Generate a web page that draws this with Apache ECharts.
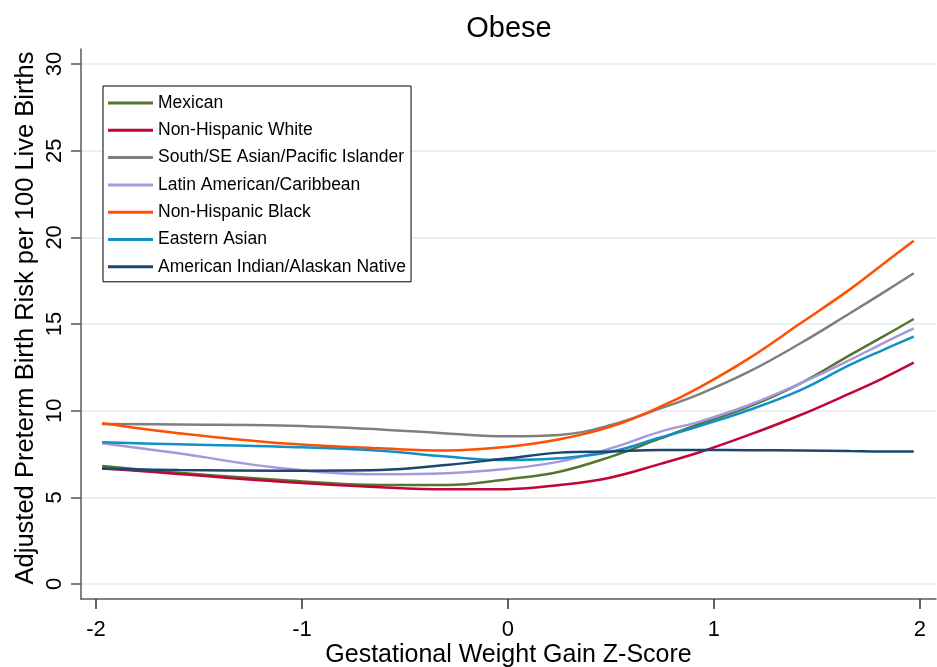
<!DOCTYPE html>
<html>
<head>
<meta charset="utf-8">
<script src="https://cdn.jsdelivr.net/npm/echarts@6/dist/echarts.min.js"></script>
<style>
  html, body { margin: 0; padding: 0; background: #fff; }
  #chart { width: 937px; height: 667px; }
</style>
</head>
<body>
<div id="chart"></div>
<script>
// Gestational weight gain z-score at which each fitted curve is evaluated
const zScores = [-1.97, -1.6, -1.1, -0.62, -0.3, 0, 0.25, 0.5, 0.74, 0.93, 1.17, 1.42, 1.66, 1.82, 1.97];

// Adjusted preterm birth risk per 100 live births, by group
const mexican        = [6.81, 6.42, 6.00, 5.71, 5.71, 6.05, 6.48, 7.35, 8.40, 9.23, 10.23, 11.58, 13.21, 14.27, 15.29];
const nhWhite        = [6.68, 6.35, 5.90, 5.58, 5.46, 5.47, 5.71, 6.15, 6.93, 7.60, 8.60, 9.75, 11.00, 11.87, 12.77];
const southAsianPI   = [9.23, 9.20, 9.14, 8.92, 8.69, 8.52, 8.60, 9.17, 10.13, 10.96, 12.25, 13.89, 15.62, 16.80, 17.93];
const latinCaribbean = [8.12, 7.54, 6.68, 6.33, 6.39, 6.65, 7.06, 7.83, 8.79, 9.37, 10.33, 11.58, 12.93, 13.89, 14.75];
const nhBlack        = [9.27, 8.70, 8.12, 7.83, 7.70, 7.92, 8.35, 9.08, 10.23, 11.35, 13.02, 15.04, 17.00, 18.45, 19.81];
const easternAsian   = [8.18, 8.06, 7.92, 7.69, 7.35, 7.15, 7.25, 7.63, 8.45, 9.12, 10.04, 11.19, 12.64, 13.50, 14.27];
const amIndianAK     = [6.65, 6.58, 6.54, 6.58, 6.87, 7.25, 7.58, 7.65, 7.73, 7.73, 7.72, 7.70, 7.67, 7.65, 7.65];

const groupNames = [
  'Mexican',
  'Non-Hispanic White',
  'South/SE Asian/Pacific Islander',
  'Latin American/Caribbean',
  'Non-Hispanic Black',
  'Eastern Asian',
  'American Indian/Alaskan Native'
];
const groupValues = [mexican, nhWhite, southAsianPI, latinCaribbean, nhBlack, easternAsian, amIndianAK];
const groupColors = ['#55752f', '#c10534', '#7f7f7f', '#a599db', '#ff4f00', '#0f90c6', '#1a476f'];

// Axis tick labels
const xTicks = [-2, -1, 0, 1, 2];
const yTicks = [0, 5, 10, 15, 20, 25, 30];

const fontFamily = '"Liberation Sans", Arial, sans-serif';

const series = groupNames.map((name, i) => ({
  name: name,
  type: 'line',
  smooth: 0.4,
  showSymbol: false,
  symbol: 'none',
  lineStyle: { width: 2.5, color: groupColors[i] },
  itemStyle: { color: groupColors[i] },
  emphasis: { disabled: true },
  data: zScores.map((z, k) => [z, groupValues[i][k]])
}));

const chart = echarts.init(document.getElementById('chart'), null, { renderer: 'canvas' });
chart.setOption({
  backgroundColor: '#ffffff',
  animation: false,
  title: {
    text: 'Obese',
    left: 509,
    textAlign: 'center',
    top: 14,
    padding: 0,
    textStyle: { fontFamily: fontFamily, fontSize: 29, fontWeight: 'normal', color: '#000' }
  },
  legend: {
    orient: 'vertical',
    left: 103,
    top: 86,
    padding: [8, 5, 6, 5],
    itemGap: 9.3,
    itemWidth: 45,
    itemHeight: 3,
    icon: 'rect',
    borderColor: '#000',
    borderWidth: 1,
    backgroundColor: '#fff',
    selectedMode: false,
    textStyle: { fontFamily: fontFamily, fontSize: 17.5, color: '#000' },
    data: groupNames
  },
  grid: { left: 81, right: 1, top: 49, bottom: 68, containLabel: false, outerBoundsMode: 'none' },
  xAxis: {
    type: 'value',
    min: -2.0727,
    max: 2.078,
    name: 'Gestational Weight Gain Z-Score',
    nameLocation: 'middle',
    nameGap: 44,
    nameMoveOverlap: false,
    nameTextStyle: { fontFamily: fontFamily, fontSize: 25, color: '#000' },
    axisLine: { show: true, onZero: false, lineStyle: { color: '#5a5a5a', width: 1.5 } },
    axisTick: { show: true, length: 10, customValues: xTicks, lineStyle: { color: '#333', width: 1.5 } },
    axisLabel: { customValues: xTicks, margin: 20, fontFamily: fontFamily, fontSize: 22, color: '#000' },
    splitLine: { show: false }
  },
  yAxis: {
    type: 'value',
    min: -0.866,
    max: 30.87,
    name: 'Adjusted Preterm Birth Risk per 100 Live Births',
    nameLocation: 'middle',
    nameGap: 42,
    nameRotate: 90,
    nameMoveOverlap: false,
    nameTextStyle: { fontFamily: fontFamily, fontSize: 25.5, color: '#000', padding: [0, 0, 0, 12] },
    axisLine: { show: true, onZero: false, lineStyle: { color: '#5a5a5a', width: 1.5 } },
    axisTick: { show: true, length: 10, customValues: yTicks, lineStyle: { color: '#555', width: 1.5 } },
    axisLabel: { customValues: yTicks, rotate: 90, margin: 15, fontFamily: fontFamily, fontSize: 22, color: '#000' },
    splitLine: { show: true, lineStyle: { color: '#e9eff2', width: 2 } }
  },
  series: series
});
</script>
</body>
</html>
